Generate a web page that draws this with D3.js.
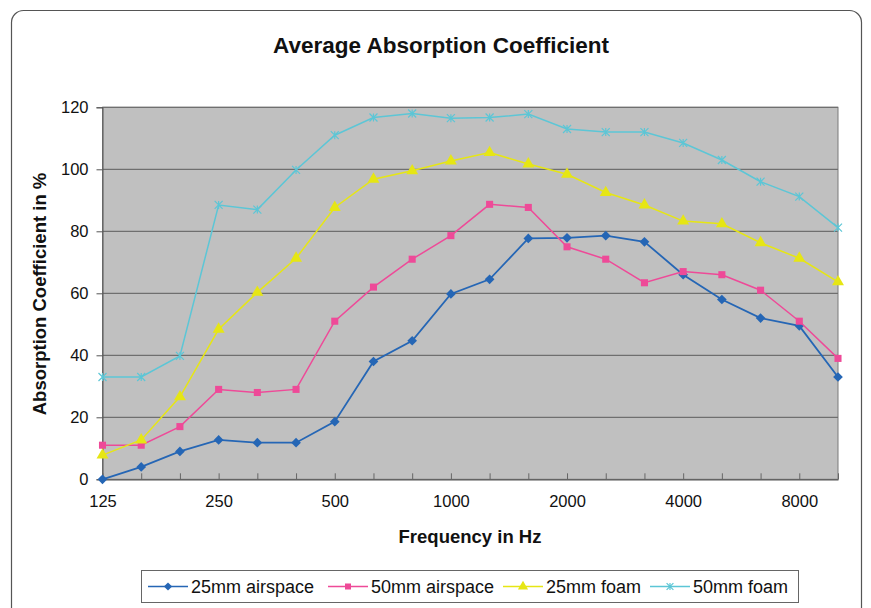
<!DOCTYPE html>
<html><head><meta charset="utf-8">
<script src="https://cdn.jsdelivr.net/npm/d3@7"></script>
<style>body{margin:0;background:#fff;}svg{display:block;font-family:Arial,"Liberation Sans",sans-serif;}</style>
</head><body>
<script>
const frequencies = ["125","160","200","250","315","400","500","630","800","1000","1250","1600","2000","2500","3150","4000","5000","6300","8000","10000"];
const shownTicks = ["125","250","500","1000","2000","4000","8000"];
const yTicks = [0,20,40,60,80,100,120];
const seriesNames = ["25mm airspace","50mm airspace","25mm foam","50mm foam"];
const airspace25 = [0, 4, 9, 12.7, 11.8, 11.8, 18.6, 38, 44.7, 59.8, 64.5, 77.7, 77.9, 78.6, 76.6, 66, 58, 52, 49.5, 33];
const airspace50 = [11, 11, 17, 29, 28, 29, 51, 62, 71, 78.6, 88.7, 87.7, 75, 71, 63.4, 67, 66, 61, 51, 39];
const foam25 = [7.8, 12.7, 26.6, 48.4, 60.3, 71.3, 87.7, 96.8, 99.5, 102.7, 105.4, 101.7, 98.4, 92.5, 88.5, 83.3, 82.4, 76.3, 71.3, 63.7];
const foam50 = [33, 33, 39.8, 88.5, 87, 99.8, 111, 116.7, 118, 116.5, 116.7, 117.8, 113, 112, 112, 108.5, 103, 96, 91.2, 81.2];

const W = 871, H = 608;
const colors = ["#2566b5","#ee4a98","#e6e614","#5cc6d6"];
const symbols = [d3.symbolDiamond2, d3.symbolSquare, d3.symbolTriangle, "star"];
const allSeries = [airspace25, airspace50, foam25, foam50];

const svg = d3.select("body").append("svg").attr("width", W).attr("height", H);

// outer rounded frame
svg.append("rect").attr("x", 11.5).attr("y", 10.5).attr("width", 850).attr("height", 620)
  .attr("rx", 12).attr("fill", "#fff").attr("stroke", "#555").attr("stroke-width", 1.2);

const L = 102.5, R = 838, T = 107.3, B = 479.3;
const x = d3.scalePoint().domain(frequencies).range([L, R]).padding(0);
const y = d3.scaleLinear().domain([0, 120]).range([B, T]);

// plot background
svg.append("rect").attr("x", L).attr("y", T).attr("width", R - L).attr("height", B - T)
  .attr("fill", "#c0c0c0").attr("stroke", "#7a7a7a").attr("stroke-width", 1);

// gridlines
svg.append("g").selectAll("line").data(yTicks.slice(1)).join("line")
  .attr("x1", L).attr("x2", R).attr("y1", d => y(d)).attr("y2", d => y(d))
  .attr("stroke", "#6f6f6f").attr("stroke-width", 1.2);

// y axis
const yAxis = svg.append("g").attr("transform", `translate(${L},0)`)
  .call(d3.axisLeft(y).tickValues(yTicks).tickSize(6).tickPadding(8));
yAxis.select(".domain").attr("stroke", "#555");
yAxis.selectAll(".tick line").attr("stroke", "#555");
yAxis.selectAll("text").attr("font-size", "16.5px").attr("fill", "#111")
  .attr("font-family", "Arial, 'Liberation Sans', sans-serif");

// x axis (inner ticks)
const xAxis = svg.append("g").attr("transform", `translate(0,${B})`)
  .call(d3.axisBottom(x).tickSizeInner(-6).tickSizeOuter(0).tickPadding(16)
    .tickFormat(d => shownTicks.includes(d) ? d : ""));
xAxis.select(".domain").attr("stroke", "#555").attr("stroke-width", 1.2);
xAxis.selectAll(".tick line").attr("stroke", "#666");
xAxis.selectAll("text").attr("font-size", "16.5px").attr("fill", "#111")
  .attr("font-family", "Arial, 'Liberation Sans', sans-serif");

// titles
svg.append("text").attr("x", 441).attr("y", 53).attr("text-anchor", "middle")
  .attr("font-size", "22.5px").attr("font-weight", "bold").attr("fill", "#111")
  .text("Average Absorption Coefficient");
svg.append("text").attr("x", 470).attr("y", 543).attr("text-anchor", "middle")
  .attr("font-size", "18.5px").attr("font-weight", "bold").attr("fill", "#111")
  .text("Frequency in Hz");
svg.append("text").attr("transform", "translate(46,294) rotate(-90)").attr("text-anchor", "middle")
  .attr("font-size", "18.5px").attr("font-weight", "bold").attr("fill", "#111")
  .text("Absorption Coefficient in %");

function drawMarker(g, i, cx, cy, scale) {
  const s = scale || 1;
  if (symbols[i] === "star") {
    const r = 4 * s;
    const p = `M${cx - r},${cy - r}L${cx + r},${cy + r}M${cx - r},${cy + r}L${cx + r},${cy - r}M${cx},${cy - r}L${cx},${cy + r}`;
    g.append("path").attr("d", p).attr("stroke", colors[i]).attr("stroke-width", 1.2).attr("fill", "none");
  } else {
    const size = [60, 50, 62][i] * s * s;
    g.append("path").attr("d", d3.symbol().type(symbols[i]).size(size)())
      .attr("transform", `translate(${cx},${cy})`).attr("fill", colors[i]);
  }
}

const line = d3.line().x((d, j) => x(frequencies[j])).y(d => y(d));
allSeries.forEach((vals, i) => {
  const g = svg.append("g");
  g.append("path").datum(vals).attr("d", line).attr("fill", "none")
    .attr("stroke", colors[i]).attr("stroke-width", i === 0 ? 1.8 : 1.5);
  vals.forEach((v, j) => drawMarker(g, i, x(frequencies[j]), y(v)));
});

// legend
const lg = svg.append("g");
lg.append("rect").attr("x", 141.5).attr("y", 570.5).attr("width", 657).attr("height", 32)
  .attr("fill", "#fff").attr("stroke", "#666").attr("stroke-width", 1);
const legendX = [148, 328, 503, 650];
seriesNames.forEach((name, i) => {
  const lx = legendX[i], ly = 586.5;
  lg.append("line").attr("x1", lx).attr("x2", lx + 40).attr("y1", ly).attr("y2", ly)
    .attr("stroke", colors[i]).attr("stroke-width", 1.5);
  drawMarker(lg, i, lx + 20, ly, 0.85);
  lg.append("text").attr("x", lx + 43).attr("y", ly + 6.5).attr("font-size", "18px")
    .attr("fill", "#111").text(name);
});
</script>
</body></html>
